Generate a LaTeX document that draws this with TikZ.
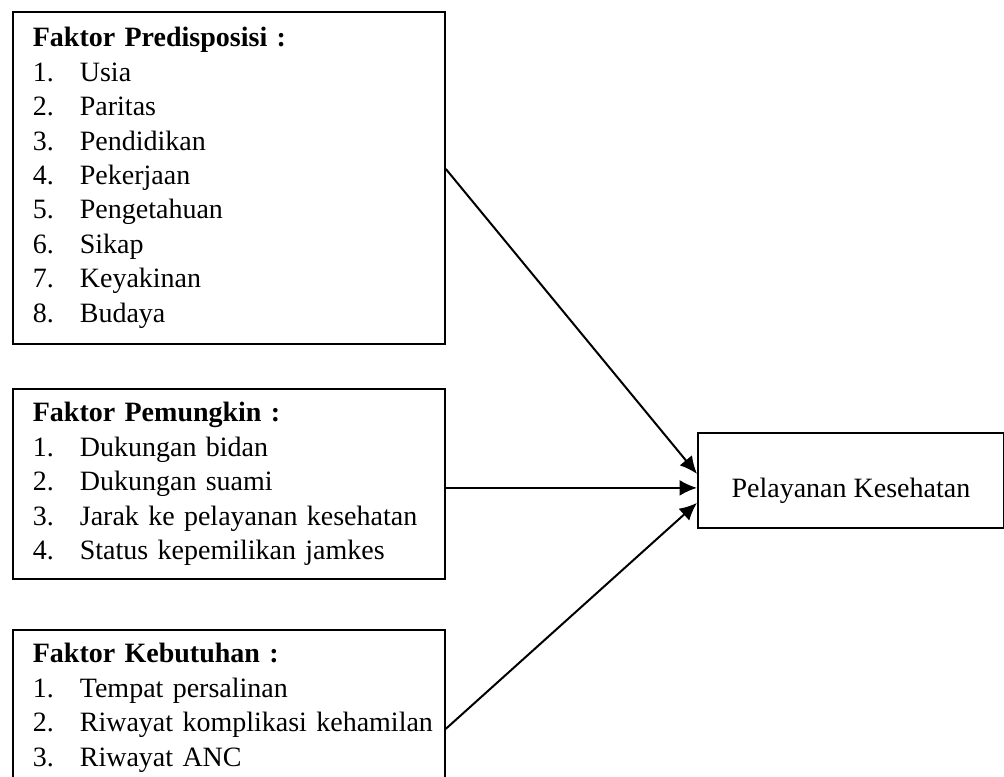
\documentclass[tikz,border=0pt]{standalone}
\usepackage{fontspec}
\setmainfont{Liberation Serif}
\usetikzlibrary{shapes,arrows.meta,positioning}

\newcommand{\butir}[2]{\mbox{\makebox[18.8pt][l]{#1}#2}}

\tikzset{
  faktor/.style={draw, line width=0.7pt, rectangle, anchor=north west, align=left,
    text width=156.8pt, inner xsep=8pt, font=\fontsize{11.2}{13.76}\selectfont},
  panah/.style={-{Latex[length=7pt,width=6.4pt]}, line width=0.8pt}
}

\begin{document}
\begin{tikzpicture}[x=0.4pt,y=-0.4pt]
  \clip (0,0) rectangle (1004,776);
  \node[faktor, minimum height=132.8pt] (predisposisi) at (12,11) {\textbf{Faktor Predisposisi :}\\
    \butir{1.}{Usia}\\ \butir{2.}{Paritas}\\ \butir{3.}{Pendidikan}\\ \butir{4.}{Pekerjaan}\\
    \butir{5.}{Pengetahuan}\\ \butir{6.}{Sikap}\\ \butir{7.}{Keyakinan}\\ \butir{8.}{Budaya}};
  \node[faktor, minimum height=76pt] (pemungkin) at (12,388) {\textbf{Faktor Pemungkin :}\\
    \butir{1.}{Dukungan bidan}\\ \butir{2.}{Dukungan suami}\\
    \butir{3.}{Jarak ke pelayanan kesehatan}\\ \butir{4.}{Status kepemilikan jamkes}};
  \node[faktor, minimum height=62.4pt] (kebutuhan) at (12,629) {\textbf{Faktor Kebutuhan :}\\
    \butir{1.}{Tempat persalinan}\\ \butir{2.}{Riwayat komplikasi kehamilan}\\ \butir{3.}{Riwayat ANC}};
  \node[draw, line width=0.7pt, anchor=north west, minimum width=122.4pt, minimum height=38pt,
    text height=14pt, text depth=0pt, font=\fontsize{11.2}{13.76}\selectfont] (hasil) at (697,432) {Pelayanan Kesehatan};
  % panah ke pelayanan
  \draw[panah] ([yshift=3.6pt]predisposisi.east) -- ([yshift=2.6pt]hasil.west);
  \draw[panah] ([yshift=-1.6pt]pemungkin.east) -- ([yshift=-1.6pt]pemungkin.east -| hasil.west);
  \draw[panah] ([yshift=-8.4pt]kebutuhan.east) -- ([yshift=-9pt]hasil.west);
\end{tikzpicture}
\end{document}
